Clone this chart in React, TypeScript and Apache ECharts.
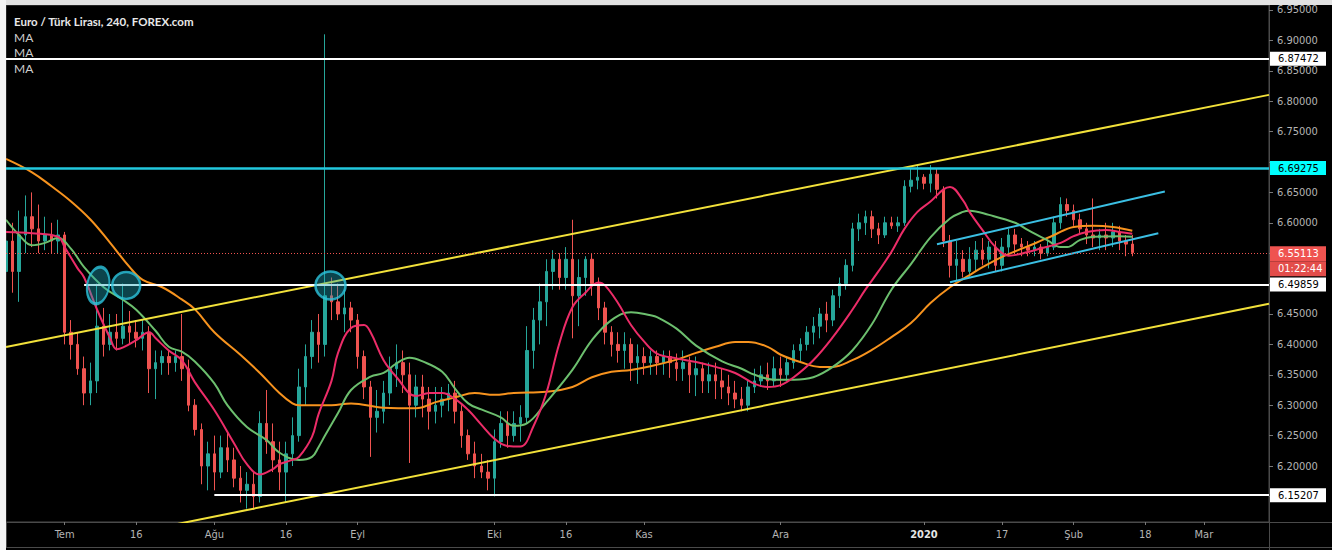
import React, { useEffect, useRef } from 'react';
import * as echarts from 'echarts';

// ---------- categories: trading days (weekends skipped, as on the source chart) ----------
const START_DAY = '2019-06-18';
const END_DAY = '2020-03-16';
function tradingDays(start: string, end: string): string[] {
  const out: string[] = [];
  const d = new Date(start + 'T00:00:00Z');
  const e = new Date(end + 'T00:00:00Z');
  while (d <= e) {
    const wd = d.getUTCDay();
    if (wd !== 0 && wd !== 6) out.push(d.toISOString().slice(0, 10));
    d.setUTCDate(d.getUTCDate() + 1);
  }
  return out;
}
const days = tradingDays(START_DAY, END_DAY);

// ---------- price candles, one per trading day from START_DAY: [open, close, low, high] ----------
const candles: number[][] = [
  [6.52, 6.57, 6.49, 6.60], [6.57, 6.52, 6.485, 6.60], [6.52, 6.58, 6.47, 6.62], [6.58, 6.61, 6.55, 6.645],
  [6.61, 6.59, 6.56, 6.65], [6.59, 6.57, 6.55, 6.63], [6.57, 6.58, 6.555, 6.61], [6.58, 6.57, 6.55, 6.60],
  [6.57, 6.58, 6.55, 6.605], [6.58, 6.42, 6.40, 6.585], [6.42, 6.40, 6.375, 6.44], [6.40, 6.36, 6.35, 6.42],
  [6.36, 6.32, 6.30, 6.38], [6.32, 6.34, 6.30, 6.37], [6.34, 6.43, 6.32, 6.50], [6.43, 6.40, 6.38, 6.46],
  [6.40, 6.42, 6.39, 6.45], [6.42, 6.41, 6.39, 6.45], [6.41, 6.43, 6.40, 6.50], [6.43, 6.42, 6.40, 6.455],
  [6.42, 6.41, 6.395, 6.44], [6.41, 6.42, 6.39, 6.44], [6.42, 6.36, 6.32, 6.43], [6.36, 6.37, 6.31, 6.39],
  [6.37, 6.38, 6.35, 6.39], [6.38, 6.37, 6.35, 6.39], [6.37, 6.38, 6.355, 6.39], [6.38, 6.36, 6.34, 6.45],
  [6.36, 6.30, 6.29, 6.375], [6.30, 6.26, 6.25, 6.31], [6.26, 6.20, 6.17, 6.27], [6.20, 6.22, 6.16, 6.24],
  [6.22, 6.19, 6.16, 6.25], [6.19, 6.23, 6.18, 6.25], [6.23, 6.21, 6.19, 6.255], [6.21, 6.18, 6.165, 6.23],
  [6.18, 6.16, 6.14, 6.20], [6.16, 6.17, 6.13, 6.19], [6.17, 6.15, 6.128, 6.19], [6.15, 6.27, 6.14, 6.29],
  [6.27, 6.24, 6.22, 6.325], [6.24, 6.21, 6.19, 6.27], [6.21, 6.19, 6.16, 6.24], [6.19, 6.22, 6.14, 6.24],
  [6.22, 6.25, 6.20, 6.28], [6.25, 6.33, 6.24, 6.36], [6.33, 6.38, 6.30, 6.40], [6.38, 6.42, 6.36, 6.44],
  [6.42, 6.40, 6.37, 6.45], [6.40, 6.48, 6.38, 6.91], [6.48, 6.47, 6.44, 6.51], [6.47, 6.45, 6.44, 6.50],
  [6.45, 6.46, 6.42, 6.49], [6.46, 6.44, 6.42, 6.47], [6.44, 6.38, 6.36, 6.45], [6.38, 6.33, 6.31, 6.39],
  [6.33, 6.28, 6.215, 6.34], [6.28, 6.29, 6.255, 6.325], [6.29, 6.32, 6.27, 6.34], [6.32, 6.36, 6.30, 6.38],
  [6.36, 6.37, 6.33, 6.40], [6.37, 6.35, 6.32, 6.39], [6.35, 6.30, 6.205, 6.37], [6.30, 6.33, 6.28, 6.35],
  [6.33, 6.31, 6.28, 6.35], [6.31, 6.29, 6.26, 6.33], [6.29, 6.30, 6.27, 6.33], [6.30, 6.31, 6.28, 6.33],
  [6.31, 6.32, 6.29, 6.335], [6.32, 6.29, 6.27, 6.34], [6.29, 6.25, 6.23, 6.30], [6.25, 6.22, 6.21, 6.26],
  [6.22, 6.20, 6.18, 6.24], [6.20, 6.19, 6.18, 6.22], [6.19, 6.18, 6.16, 6.21], [6.18, 6.24, 6.15, 6.26],
  [6.24, 6.27, 6.23, 6.29], [6.27, 6.25, 6.23, 6.29], [6.25, 6.27, 6.24, 6.29], [6.27, 6.28, 6.24, 6.30],
  [6.28, 6.39, 6.27, 6.43], [6.39, 6.44, 6.36, 6.46], [6.44, 6.47, 6.40, 6.50], [6.47, 6.52, 6.43, 6.54],
  [6.52, 6.54, 6.49, 6.555], [6.54, 6.51, 6.49, 6.55], [6.51, 6.54, 6.49, 6.56], [6.54, 6.48, 6.41, 6.605],
  [6.48, 6.51, 6.43, 6.54], [6.51, 6.54, 6.48, 6.545], [6.54, 6.50, 6.48, 6.55], [6.50, 6.46, 6.44, 6.51],
  [6.46, 6.42, 6.40, 6.47], [6.42, 6.40, 6.38, 6.43], [6.40, 6.39, 6.37, 6.42], [6.39, 6.40, 6.36, 6.42],
  [6.40, 6.37, 6.34, 6.41], [6.37, 6.38, 6.335, 6.40], [6.38, 6.37, 6.35, 6.395], [6.37, 6.38, 6.35, 6.39],
  [6.38, 6.37, 6.35, 6.39], [6.37, 6.38, 6.35, 6.39], [6.38, 6.37, 6.345, 6.39], [6.37, 6.36, 6.34, 6.385],
  [6.36, 6.37, 6.34, 6.39], [6.37, 6.35, 6.32, 6.38], [6.35, 6.36, 6.315, 6.38], [6.36, 6.34, 6.32, 6.37],
  [6.34, 6.35, 6.32, 6.37], [6.35, 6.34, 6.31, 6.37], [6.34, 6.33, 6.31, 6.36], [6.33, 6.32, 6.30, 6.35],
  [6.32, 6.31, 6.295, 6.34], [6.31, 6.30, 6.29, 6.33], [6.30, 6.33, 6.29, 6.34], [6.33, 6.34, 6.32, 6.36],
  [6.34, 6.35, 6.33, 6.365], [6.35, 6.34, 6.325, 6.37], [6.34, 6.36, 6.33, 6.38], [6.36, 6.35, 6.33, 6.38],
  [6.35, 6.37, 6.34, 6.38], [6.37, 6.39, 6.36, 6.40], [6.39, 6.40, 6.37, 6.41], [6.40, 6.42, 6.39, 6.43],
  [6.42, 6.43, 6.40, 6.445], [6.43, 6.45, 6.41, 6.46], [6.45, 6.44, 6.42, 6.47], [6.44, 6.48, 6.43, 6.49],
  [6.48, 6.50, 6.46, 6.51], [6.50, 6.53, 6.49, 6.54], [6.53, 6.59, 6.52, 6.60], [6.59, 6.60, 6.57, 6.615],
  [6.60, 6.61, 6.58, 6.62], [6.61, 6.59, 6.575, 6.62], [6.59, 6.58, 6.565, 6.60], [6.58, 6.60, 6.575, 6.61],
  [6.60, 6.595, 6.59, 6.61], [6.595, 6.60, 6.585, 6.61], [6.60, 6.66, 6.595, 6.67], [6.66, 6.67, 6.65, 6.69],
  [6.67, 6.675, 6.655, 6.695], [6.675, 6.665, 6.655, 6.68], [6.665, 6.68, 6.65, 6.695], [6.68, 6.655, 6.64, 6.69],
  [6.655, 6.57, 6.56, 6.66], [6.57, 6.53, 6.51, 6.58], [6.53, 6.54, 6.505, 6.57], [6.54, 6.52, 6.51, 6.555],
  [6.52, 6.54, 6.51, 6.56], [6.54, 6.555, 6.52, 6.57], [6.555, 6.54, 6.53, 6.575], [6.54, 6.56, 6.525, 6.57],
  [6.56, 6.53, 6.52, 6.57], [6.53, 6.56, 6.52, 6.575], [6.56, 6.58, 6.55, 6.59], [6.58, 6.565, 6.55, 6.59],
  [6.565, 6.56, 6.545, 6.575], [6.56, 6.555, 6.545, 6.57], [6.555, 6.56, 6.545, 6.57], [6.56, 6.55, 6.54, 6.565],
  [6.55, 6.56, 6.545, 6.57], [6.56, 6.60, 6.555, 6.61], [6.60, 6.63, 6.59, 6.642], [6.63, 6.62, 6.61, 6.64],
  [6.62, 6.605, 6.595, 6.63], [6.605, 6.59, 6.58, 6.615], [6.59, 6.58, 6.565, 6.60], [6.58, 6.575, 6.56, 6.64],
  [6.575, 6.58, 6.555, 6.59], [6.58, 6.575, 6.555, 6.60], [6.575, 6.585, 6.56, 6.60], [6.585, 6.57, 6.555, 6.595],
  [6.57, 6.565, 6.545, 6.58], [6.565, 6.55113, 6.545, 6.58],
];

// ---------- moving averages: [trading-day number, value] ----------
const maFast: number[][] = [
  [0, 6.585], [4, 6.583], [8, 6.577], [9, 6.56], [11, 6.525], [12, 6.51], [14, 6.457], [16, 6.41], [17, 6.392],
  [18, 6.395], [20, 6.407], [22, 6.42], [23, 6.41], [25, 6.39], [27, 6.374], [29, 6.338], [32, 6.292], [35, 6.238],
  [37, 6.203], [39, 6.186], [41, 6.195], [42, 6.203], [44, 6.21], [45, 6.215], [47, 6.248], [48, 6.285], [50, 6.34],
  [51, 6.386], [53, 6.427], [55, 6.432], [56, 6.42], [58, 6.374], [60, 6.346], [63, 6.315], [65, 6.32], [67, 6.32],
  [69, 6.31], [71, 6.292], [73, 6.268], [75, 6.245], [77, 6.233], [79, 6.232], [81, 6.265], [83, 6.32], [85, 6.402],
  [87, 6.461], [89, 6.485], [91, 6.502], [92, 6.497], [94, 6.468], [96, 6.432], [98, 6.405], [100, 6.385],
  [103, 6.377], [106, 6.371], [109, 6.363], [112, 6.353], [115, 6.335], [117, 6.33], [119, 6.333], [121, 6.346],
  [124, 6.374], [127, 6.412], [130, 6.457], [132, 6.49], [134, 6.52], [136, 6.552], [138, 6.59], [140, 6.618],
  [142, 6.635], [144, 6.655], [145, 6.659], [147, 6.637], [148, 6.618], [150, 6.588], [152, 6.56], [154, 6.546],
  [157, 6.552], [159, 6.558], [162, 6.567], [164, 6.578], [166, 6.585], [169, 6.588], [171, 6.585], [173, 6.582],
];
const maMid: number[][] = [
  [0, 6.605], [2, 6.58], [4, 6.563], [6, 6.567], [8, 6.575], [10, 6.557], [12, 6.527], [15, 6.494], [18, 6.473],
  [20, 6.457], [23, 6.422], [25, 6.396], [27, 6.388], [29, 6.372], [32, 6.336], [34, 6.30], [37, 6.264], [40, 6.243],
  [42, 6.222], [45, 6.21], [47, 6.215], [48, 6.231], [49, 6.25], [51, 6.287], [53, 6.325], [56, 6.347], [58, 6.353],
  [60, 6.369], [62, 6.378], [64, 6.372], [67, 6.355], [69, 6.327], [71, 6.303], [73, 6.293], [76, 6.28], [78, 6.266],
  [80, 6.27], [83, 6.305], [87, 6.358], [90, 6.407], [93, 6.44], [96, 6.453], [99, 6.448], [100, 6.445],
  [103, 6.426], [106, 6.398], [110, 6.372], [113, 6.36], [115, 6.35], [118, 6.342], [121, 6.342], [124, 6.346],
  [127, 6.363], [130, 6.39], [133, 6.433], [136, 6.49], [139, 6.532], [142, 6.576], [145, 6.607], [147, 6.618],
  [148, 6.62], [151, 6.613], [155, 6.60], [157, 6.588], [160, 6.571], [162, 6.56], [163, 6.56], [165, 6.572],
  [167, 6.577], [171, 6.578], [173, 6.577],
];
const maSlow: number[][] = [
  [0, 6.705], [4, 6.683], [7, 6.66], [10, 6.635], [13, 6.605], [16, 6.567], [19, 6.527], [21, 6.506], [24, 6.494],
  [27, 6.474], [29, 6.458], [32, 6.42], [36, 6.383], [39, 6.353], [42, 6.32], [44, 6.303], [45, 6.30], [50, 6.30],
  [53, 6.303], [58, 6.296], [63, 6.295], [66, 6.305], [69, 6.313], [72, 6.32], [75, 6.317], [78, 6.32], [83, 6.322],
  [87, 6.33], [90, 6.346], [93, 6.355], [96, 6.358], [99, 6.364], [103, 6.375], [106, 6.386], [109, 6.396],
  [112, 6.404], [114, 6.404], [117, 6.396], [119, 6.383], [122, 6.371], [125, 6.363], [127, 6.363], [130, 6.374],
  [133, 6.391], [136, 6.412], [139, 6.435], [142, 6.468], [145, 6.494], [148, 6.514], [150, 6.527], [153, 6.544],
  [155, 6.553], [158, 6.566], [161, 6.58], [164, 6.593], [167, 6.595], [170, 6.593], [173, 6.587],
];

// ---------- drawn levels and lines ----------
const levelResistance = 6.87472;
const levelTop = 6.69275;
const lastPrice = 6.55113;
const countdown = '01:22:44';
const levelPivot = 6.49859;
const levelSupport = 6.15207;
const pivotFrom = '2019-07-04';
const supportFrom = '2019-08-01';
const boxedLevels = [levelResistance, levelTop, lastPrice, levelPivot, levelSupport];

const trendUpper: (string | number)[][] = [['2019-06-18', 6.3957], ['2020-03-16', 6.8104]];
const trendLower: (string | number)[][] = [['2019-07-24', 6.1039], ['2020-03-16', 6.4668]];
const channelUpper: (string | number)[][] = [['2020-01-03', 6.5647], ['2020-02-21', 6.6515]];
const channelLower: (string | number)[][] = [['2020-01-07', 6.5021], ['2020-02-20', 6.5829]];

const touchDays = ['2019-07-08', '2019-07-12', '2019-08-27'];
const touchPrice = 6.497;

const dateLabels: Record<string, string> = {
  '2019-07-01': 'Tem', '2019-07-16': '16', '2019-08-01': 'Ağu', '2019-08-16': '16', '2019-09-02': 'Eyl',
  '2019-10-01': 'Eki', '2019-10-16': '16', '2019-11-01': 'Kas', '2019-12-02': 'Ara', '2020-01-01': '2020',
  '2020-01-17': '17', '2020-02-03': 'Şub', '2020-02-18': '18', '2020-03-02': 'Mar',
};

const titleText = 'Euro / Türk Lirası, 240, FOREX.com';
const maNames = ['MA', 'MA', 'MA'];

// ---------- styles ----------
const NARROW = "'Liberation Sans Narrow', 'DejaVu Sans Condensed', 'Liberation Sans', sans-serif";
const UI = "Lato, 'Noto Sans', sans-serif";
const AXIS_TXT = '#b4b4b4';
const FRAME = '#4a4a4a';
const UP = '#26a69a';
const DOWN = '#ef5350';
const touchStyle = [
  { size: [22, 37], rotate: -10, offset: [1, 0] },
  { size: [28, 27], rotate: 0, offset: [3, 0] },
  { size: [30, 28], rotate: 0, offset: [-1, 0] },
];

const boxLabel = (bg: string, fg: string, text: string) => ({
  show: true,
  position: 'end',
  distance: 1,
  formatter: text,
  backgroundColor: bg,
  color: fg,
  fontFamily: NARROW,
  fontSize: 11,
  width: 44,
  padding: [2, 4, 1, 8],
});

const ELLIPSE = 'path://M0,50A50,50,0,1,1,100,50A50,50,0,1,1,0,50Z';

function buildOption() {
  const showLabel = (_i: number, v: string) => dateLabels[v] !== undefined;
  return {
    animation: false,
    backgroundColor: '#000',
    grid: { left: 6, top: 5, right: 63, bottom: 28, show: true, borderColor: FRAME, borderWidth: 1, backgroundColor: 'transparent' },
    xAxis: {
      type: 'category',
      data: days,
      boundaryGap: false,
      axisLine: { show: true, lineStyle: { color: FRAME } },
      axisTick: { show: true, interval: showLabel, length: 3, lineStyle: { color: '#777' } },
      axisLabel: {
        interval: showLabel,
        formatter: (v: string) => {
          const t = dateLabels[v] || '';
          return t === '2020' ? '{y|2020}' : t;
        },
        color: AXIS_TXT,
        fontFamily: NARROW,
        fontSize: 11,
        margin: 7,
        rich: { y: { fontFamily: NARROW, fontSize: 11, fontWeight: 'bold', color: '#e6e6e6' } },
      },
      splitLine: { show: false },
    },
    yAxis: {
      type: 'value',
      position: 'right',
      min: 6.1079,
      max: 6.9582,
      splitNumber: 17,
      axisLine: { show: true, lineStyle: { color: FRAME } },
      axisTick: { show: true, length: 4, lineStyle: { color: '#777' } },
      axisLabel: {
        color: AXIS_TXT,
        fontFamily: NARROW,
        fontSize: 11,
        margin: 8,
        showMinLabel: false,
        showMaxLabel: false,
        // price boxes sit on top of these tick labels, so the covered ones are left blank
        formatter: (v: number) => (boxedLevels.some((l) => Math.abs(l - v) < 0.011) ? '' : v.toFixed(5)),
      },
      splitLine: { show: false },
    },
    graphic: [
      { type: 'rect', shape: { x: 0, y: 0, width: 1332, height: 5 }, style: { fill: '#e2e2e2' }, z: 100 },
      { type: 'rect', shape: { x: 0, y: 0, width: 6, height: 550 }, style: { fill: '#f4f4f4' }, z: 100 },
      { type: 'line', shape: { x1: 1269.5, y1: 522, x2: 1269.5, y2: 550 }, style: { stroke: FRAME, lineWidth: 1 } },
      { type: 'line', shape: { x1: 1269, y1: 522.5, x2: 1332, y2: 522.5 }, style: { stroke: FRAME, lineWidth: 1 } },
      { type: 'line', shape: { x1: 6, y1: 547.5, x2: 1332, y2: 547.5 }, style: { stroke: FRAME, lineWidth: 1 } },
      { type: 'line', shape: { x1: 6.5, y1: 522, x2: 6.5, y2: 548 }, style: { stroke: FRAME, lineWidth: 1 } },
      {
        type: 'text', left: 14, top: 15, z: 0,
        style: { text: titleText, fill: '#e8e8e8', font: `bold 11.5px ${UI}` },
      },
      ...maNames.map((n, k) => ({
        type: 'text', left: 14, top: 31 + k * 15.5, z: 0,
        style: { text: n, fill: '#cfcfcf', font: `12px ${UI}` },
      })),
    ],
    series: [
      {
        type: 'candlestick',
        data: candles,
        barWidth: 3,
        itemStyle: { color: UP, color0: DOWN, borderColor: UP, borderColor0: DOWN, borderWidth: 1 },
        markLine: {
          silent: true,
          symbol: ['none', 'none'],
          animation: false,
          data: [
            {
              yAxis: levelResistance,
              lineStyle: { color: '#ffffff', width: 2, type: 'solid' },
              label: boxLabel('#ffffff', '#000', levelResistance.toFixed(5)),
            },
            {
              yAxis: levelTop,
              lineStyle: { color: '#22c8de', width: 2.5, type: 'solid' },
              label: boxLabel('#00ffff', '#000', levelTop.toFixed(5)),
            },
            {
              yAxis: lastPrice,
              lineStyle: { color: DOWN, width: 1, type: [1, 2] },
              label: {
                show: true,
                position: 'end',
                distance: 1,
                formatter: `{e|}\n{p|${lastPrice.toFixed(5)}}\n{t|${countdown}}`,
                rich: {
                  e: { height: 16, width: 44, padding: [0, 4, 0, 8] },
                  p: { backgroundColor: '#ef5350', color: '#fff', fontFamily: NARROW, fontSize: 11, width: 44, height: 13, padding: [1, 4, 1, 8] },
                  t: { backgroundColor: '#e34d4a', color: '#fff', fontFamily: NARROW, fontSize: 11, width: 44, height: 13, padding: [1, 4, 1, 8] },
                },
              },
            },
            [
              {
                coord: [pivotFrom, levelPivot],
                lineStyle: { color: '#ffffff', width: 2, type: 'solid' },
                label: boxLabel('#ffffff', '#000', levelPivot.toFixed(5)),
              },
              { coord: [END_DAY, levelPivot] },
            ],
            [
              {
                coord: [supportFrom, levelSupport],
                lineStyle: { color: '#ffffff', width: 2, type: 'solid' },
                label: boxLabel('#ffffff', '#000', levelSupport.toFixed(5)),
              },
              { coord: [END_DAY, levelSupport] },
            ],
          ],
        },
      },
      { type: 'line', data: maSlow, showSymbol: false, smooth: 0.4, lineStyle: { color: '#f7931e', width: 2 }, silent: true },
      { type: 'line', data: maMid, showSymbol: false, smooth: 0.4, lineStyle: { color: '#6cbf6e', width: 2 }, silent: true },
      { type: 'line', data: maFast, showSymbol: false, smooth: 0.4, lineStyle: { color: '#ec2c68', width: 2 }, silent: true },
      { type: 'line', data: trendUpper, showSymbol: false, lineStyle: { color: '#f2e13a', width: 2 }, silent: true },
      { type: 'line', data: trendLower, showSymbol: false, lineStyle: { color: '#f2e13a', width: 2 }, silent: true },
      { type: 'line', data: channelUpper, showSymbol: false, lineStyle: { color: '#3bbfe3', width: 2 }, silent: true },
      { type: 'line', data: channelLower, showSymbol: false, lineStyle: { color: '#3bbfe3', width: 2 }, silent: true },
      {
        type: 'scatter',
        silent: true,
        z: 5,
        data: touchDays.map((d, k) => ({
          value: [d, touchPrice],
          symbol: ELLIPSE,
          symbolSize: touchStyle[k].size,
          symbolRotate: touchStyle[k].rotate,
          symbolOffset: touchStyle[k].offset,
        })),
        itemStyle: { color: 'rgba(30, 170, 190, 0.5)', borderColor: '#2cc3dc', borderWidth: 2.5 },
      },
    ],
  };
}

export default function App() {
  const ref = useRef<HTMLDivElement>(null);
  useEffect(() => {
    if (!ref.current) return;
    const chart = echarts.init(ref.current, null, { renderer: 'svg' });
    chart.setOption(buildOption() as any);
    return () => chart.dispose();
  }, []);
  return <div ref={ref} style={{ position: 'fixed', left: 0, top: 0, width: 1332, height: 550 }} />;
}
